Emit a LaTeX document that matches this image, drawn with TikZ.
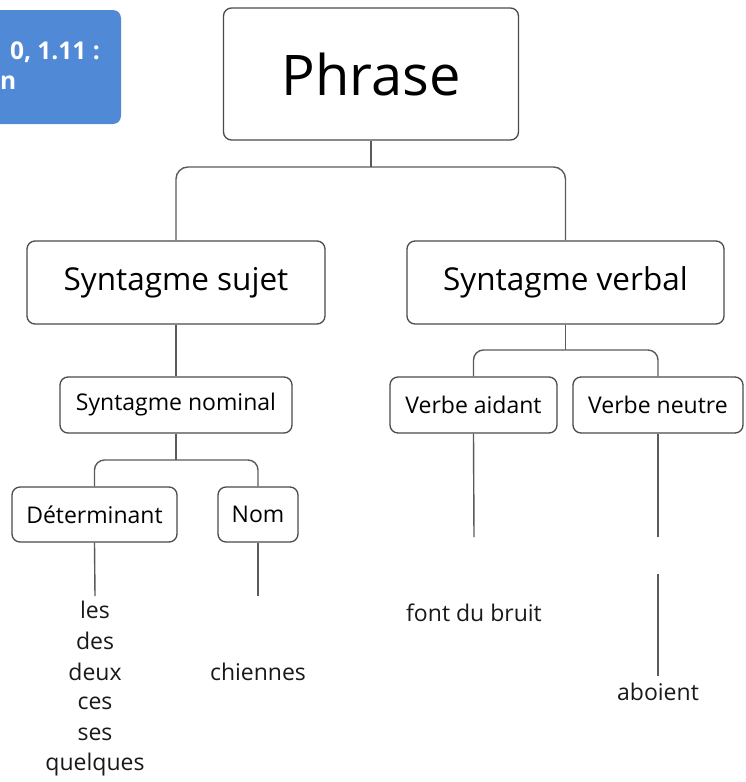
\documentclass[tikz,border=0pt]{standalone}
\usepackage{fontspec}
\setmainfont{Open Sans}
\definecolor{boxline}{HTML}{4A4A4A}
\definecolor{conline}{HTML}{5A5A5A}
\definecolor{bluebox}{HTML}{5089D6}
\begin{document}
\begin{tikzpicture}[x=1pt,y=-1pt,
  tbox/.style={draw=boxline,line width=1.3pt,rounded corners=8pt,fill=white,inner sep=0pt},
  conn/.style={draw=conline,line width=1.4pt},
  small/.style={font=\fontsize{23}{27}\selectfont},
  word/.style={inner sep=0pt,font=\fontsize{23}{27}\selectfont,text=black!90}]
\useasboundingbox (0,0) rectangle (745,782);
% blue header box (cut off at the left)
\node[fill=bluebox,rounded corners=8pt,minimum width=201pt,minimum height=114pt,inner sep=0pt] (hdr) at (20.5,67) {};
\node[anchor=east,text=white,font=\fontsize{24.5}{28}\selectfont\bfseries,inner sep=0pt] (hdr1) at (100,52) {0, 1.11 :};
\node[anchor=west,text=white,font=\fontsize{24.5}{28}\selectfont\bfseries,inner sep=0pt] (hdr2) at (0,83) {n};
% nodes
\node[tbox,minimum width=295pt,minimum height=132pt,font=\fontsize{56}{62}\selectfont] (P) at (371,74) {Phrase};
\node[tbox,minimum width=298pt,minimum height=83pt,font=\fontsize{31.5}{36}\selectfont] (S) at (176,282.5) {Syntagme sujet};
\node[tbox,minimum width=317pt,minimum height=83pt,font=\fontsize{31.5}{36}\selectfont] (V) at (565.5,282.5) {Syntagme verbal};
\node[tbox,small,minimum width=232pt,minimum height=56pt] (SN) at (176,405) {Syntagme nominal};
\node[tbox,small,minimum width=165pt,minimum height=55pt] (D) at (94.5,514.5) {Déterminant};
\node[tbox,small,minimum width=80pt,minimum height=55pt] (N) at (258,514.5) {Nom};
\node[tbox,small,minimum width=167pt,minimum height=56pt] (VA) at (473.5,405) {Verbe aidant};
\node[tbox,small,minimum width=170pt,minimum height=56pt] (VN) at (658,405) {Verbe neutre};
% words
\node[word] (w1) at (95,610) {les};
\node[word] (w2) at (95,641) {des};
\node[word] (w3) at (95,672) {deux};
\node[word] (w4) at (95,703) {ces};
\node[word] (w5) at (95,734) {ses};
\node[word] (w6) at (95,765) {quelques};
\node[word] (ch) at (258,672) {chiennes};
\node[word] (fb) at (474,613) {font du bruit};
\node[word] (ab) at (658,692) {aboient};
% junction coordinates
\coordinate (j1) at (371,167);
\coordinate (j2) at (176,460);
\coordinate (j3) at (565.5,350);
\coordinate (e1) at (95,596);
\coordinate (e2) at (258,596);
\coordinate (e3) at (474,537);
\coordinate (e4) at (658,537);
\coordinate (a1) at (658,574);
\coordinate (a2) at (658,676);
% connectors
\draw[conn] (P.south) -- (j1);
\draw[conn,rounded corners=12pt] (j1) -| (S.north);
\draw[conn,rounded corners=12pt] (j1) -| (V.north);
\draw[conn] (S.south) -- (SN.north);
\draw[conn] (SN.south) -- (j2);
\draw[conn,rounded corners=10pt] (j2) -| (D.north);
\draw[conn,rounded corners=10pt] (j2) -| (N.north);
\draw[conn] (V.south) -- (j3);
\draw[conn,rounded corners=10pt] (j3) -| (VA.north);
\draw[conn,rounded corners=10pt] (j3) -| (VN.north);
\draw[conn] (D.south) -- (e1);
\draw[conn] (N.south) -- (e2);
\draw[conn] (VA.south) -- (e3);
\draw[conn] (VN.south) -- (e4);
\draw[conn] (a1) -- (a2);
\end{tikzpicture}
\end{document}
